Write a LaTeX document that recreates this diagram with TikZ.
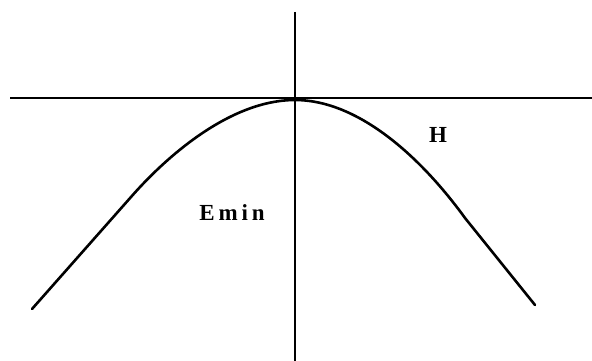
\documentclass[tikz,border=0pt]{standalone}
\usepackage{fontspec}
\setmainfont{Liberation Serif}
\usetikzlibrary{positioning}

\begin{document}
\begin{tikzpicture}[x=1pt,y=-1pt,
      axis/.style={line width=2.8pt,black},
      curve/.style={line width=2.6pt,black,line cap=round,line join=round},
      lbl/.style={font=\fontsize{23}{27}\selectfont\bfseries,inner sep=0pt}]
    \useasboundingbox (0,0) rectangle (592,361);
    % axes
    \coordinate (xl) at (10,98);
    \coordinate (xr) at (592,98);
    \coordinate (yt) at (295,12);
    \coordinate (yb) at (295,361);
    \draw[axis] (xl) -- (xr);
    \draw[axis] (yt) -- (yb);
    % energy curve
    \coordinate (l) at (32,309);
    \coordinate (top) at (295,100);
    \coordinate (r) at (535,305);
    \draw[curve] (l) -- (131,197) .. controls (166,157) and (230,100) .. (top)
      .. controls (360,100) and (423,160) .. (465,218) -- (r);
    % labels
    \node[lbl] (emin) at (232,213) {E\,m\,i\,n};
    \node[lbl] (h) at (438,135) {H};
  \end{tikzpicture}
\end{document}
